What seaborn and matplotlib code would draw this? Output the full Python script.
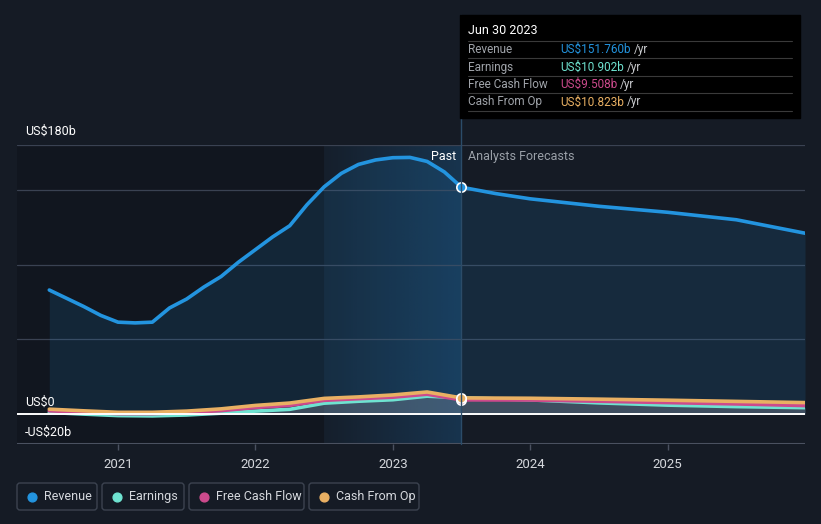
import numpy as np
import pandas as pd
import seaborn as sns
import matplotlib.pyplot as plt
from matplotlib.patches import FancyBboxPatch

# values (US$ billions)
rev_years = [2020.5, 2020.625, 2020.75, 2020.875, 2021.0, 2021.125, 2021.25, 2021.375,
             2021.5, 2021.625, 2021.75, 2021.875, 2022.0, 2022.125, 2022.25, 2022.375,
             2022.5, 2022.625, 2022.75, 2022.875, 2023.0, 2023.125, 2023.25, 2023.375,
             2023.5, 2023.75, 2024.0, 2024.5, 2025.0, 2025.5, 2026.0]
revenue = [83, 77.5, 72, 66, 61.5, 61, 61.5, 71,
           77, 85, 92, 101.5, 110, 118.5, 126, 140,
           152, 161, 167, 170, 171.5, 171.7, 169, 162,
           151.76, 147.5, 144, 139, 135, 130, 121]

years = [2020.5, 2020.75, 2021.0, 2021.25, 2021.5, 2021.75, 2022.0, 2022.25,
         2022.5, 2022.75, 2023.0, 2023.25, 2023.5,
         2024.0, 2024.5, 2025.0, 2025.5, 2026.0]
earnings = [1.1, 0.0, -1.0, -1.2, -0.6, 0.6, 2.0, 3.2, 7.3, 8.6, 9.6, 12.0, 10.902,
            9.5, 7.5, 6.0, 5.0, 4.3]
fcf = [2.2, 1.2, 0.3, 0.3, 1.0, 2.3, 4.4, 5.8, 9.2, 10.3, 11.3, 13.3, 9.508,
       9.4, 8.6, 7.7, 6.8, 5.7]
cfo = [3.3, 2.2, 1.2, 1.2, 2.0, 3.5, 5.8, 7.4, 10.5, 11.5, 12.8, 14.8, 10.823,
       10.6, 10.0, 9.3, 8.5, 7.7]

series_names = ['Revenue', 'Earnings', 'Free Cash Flow', 'Cash From Op']
colors = {'Revenue': '#2394df', 'Earnings': '#6fe3d1',
          'Free Cash Flow': '#cc4a8c', 'Cash From Op': '#e9b063'}
tip_values = ['US$151.760b', 'US$10.902b', 'US$9.508b', 'US$10.823b']
x_ticks = [2021, 2022, 2023, 2024, 2025]
past_start, past_end = 2022.5, 2023.5

rev_df = pd.DataFrame({'year': rev_years, 'value': revenue, 'series': 'Revenue'})
low_df = pd.DataFrame({'year': years * 3,
                       'value': earnings + fcf + cfo,
                       'series': sum([[n] * len(years) for n in series_names[1:]], [])})

bg = '#151b25'
sns.set_theme(style='dark', rc={'figure.facecolor': bg, 'axes.facecolor': bg})
plt.rcParams['font.family'] = ['Roboto', 'DejaVu Sans']

fig = plt.figure(figsize=(8.21, 5.24), dpi=100)
ax = fig.add_axes([17 / 821, 1 - 444 / 524, (805 - 17) / 821, (444 - 145) / 524])
xmin, xmax = 2020.265, 2026.0
ax.set_xlim(xmin, xmax)
ax.set_ylim(-20, 180)

# darker history region and highlighted "past" band
ax.axvspan(xmin, past_start, color='#0e1218', alpha=0.45, lw=0, zorder=0)
grad = np.zeros((2, 256, 4))
c = np.array([0x1f, 0x6f, 0xb0]) / 255
grad[..., :3] = c
grad[..., 3] = np.linspace(0.05, 0.3, 256)
ax.imshow(grad, extent=[past_start, past_end, -20, 180], aspect='auto', zorder=0.5)

# grid lines
for g in [50, 100, 150, 180]:
    ax.axhline(g, color='#3a4252', lw=0.9, zorder=1)
ax.axhline(0, color='white', lw=1.4, zorder=4)
ax.axhline(-20, color='#4a5160', lw=1.5, zorder=4)

# fills
ax.fill_between(rev_years, revenue, 0, color='#2394df', alpha=0.13, lw=0, zorder=1.5)
ax.fill_between(years, earnings, 0, color='#8a93a3', alpha=0.35, lw=0, zorder=1.6)

sns.lineplot(data=low_df, x='year', y='value', hue='series',
             hue_order=['Earnings', 'Free Cash Flow', 'Cash From Op'],
             palette=colors, lw=2.6, legend=False, ax=ax, zorder=3)
sns.lineplot(data=rev_df, x='year', y='value', color=colors['Revenue'],
             lw=2.6, legend=False, ax=ax, zorder=3)

ax.scatter([past_end], [revenue[rev_years.index(past_end)]], s=45, color=colors['Revenue'],
           edgecolor='white', lw=1.2, zorder=6)
i_end = years.index(past_end)
ax.scatter([past_end], [fcf[i_end]], s=45, color=colors['Free Cash Flow'], edgecolor='white', lw=1.2, zorder=5)
ax.scatter([past_end], [cfo[i_end]], s=45, color=colors['Cash From Op'], edgecolor='white', lw=1.2, zorder=6)

for s in ax.spines.values():
    s.set_visible(False)
ax.set_xlabel('')
ax.set_ylabel('')
ax.set_yticks([])
ax.set_xticks(x_ticks)
ax.set_xticklabels([str(t) for t in x_ticks], color='#d5d8dd', fontsize=9.5)
ax.tick_params(axis='x', length=4, width=1, color='#4a5160', pad=6, bottom=True)
ax.grid(False)

ax.text(2023.46, 172, 'Past', color='white', fontsize=9, ha='right', va='center', zorder=7)
ax.text(2023.55, 172, 'Analysts Forecasts', color='#9aa0a8', fontsize=9, ha='left', va='center', zorder=7)

# overlay in pixel coordinates for labels, tooltip and legend
ov = fig.add_axes([0, 0, 1, 1], facecolor='none')
ov.set_xlim(0, 821)
ov.set_ylim(524, 0)
ov.axis('off')

ov.text(25, 131, 'US$180b', color='white', fontsize=9, va='center')
ov.text(25, 402, 'US$0', color='white', fontsize=9, va='center')
ov.text(25, 432, '-US$20b', color='white', fontsize=9, va='center')

ov.plot([461, 461], [15, 444], color='#2b4c69', lw=1, zorder=1)
ov.add_patch(plt.Rectangle((460, 15), 340, 103, color='black', zorder=2))
ov.text(468, 31, 'Jun 30 2023', color='white', fontsize=9, va='center', zorder=3)
for yy in [41, 58, 76, 93, 111]:
    ov.plot([468, 792], [yy, yy], color='#3a3a3a', lw=0.8, zorder=3)

fig.canvas.draw()
renderer = fig.canvas.get_renderer()
inv = ov.transData.inverted()
for i, name in enumerate(series_names):
    yy = 49.5 + i * 17.5
    ov.text(468, yy, name, color='#a0a4aa', fontsize=8.5, va='center', zorder=3)
    t = ov.text(560, yy, tip_values[i], color=colors[name], fontsize=8.5, va='center', zorder=3)
    bb = t.get_window_extent(renderer)
    x_end = inv.transform((bb.x1, bb.y0))[0]
    ov.text(x_end + 3, yy, '/yr', color='#c8cacd', fontsize=8.5, va='center', zorder=3)

boxes = [(17, 97), (102, 184), (189, 304), (309, 419)]
for (x0, x1), name in zip(boxes, series_names):
    ov.add_patch(FancyBboxPatch((x0, 483), x1 - x0, 27, boxstyle='round,pad=0,rounding_size=3',
                                fc='none', ec='#3c4350', lw=1))
    ov.scatter([x0 + 15], [496.5], s=40, color=colors[name])
    ov.text(x0 + 27, 496.5, name, color='#d5d8dd', fontsize=9, va='center')

fig.savefig('out.png', dpi=100, facecolor=bg)
